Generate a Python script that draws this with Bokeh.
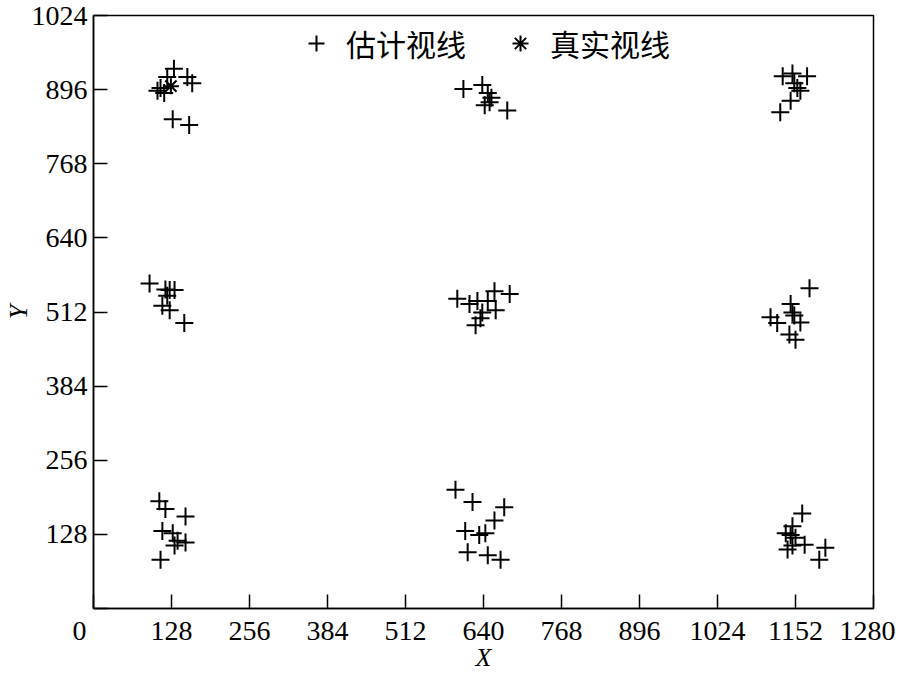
from bokeh.plotting import figure
from bokeh.models import Legend, LegendItem, FixedTicker
from bokeh.embed import file_html
from bokeh.resources import INLINE

# estimated gaze points (估计视线)
est_x = [132, 121, 154, 162, 110, 116, 105, 130, 157,
         607, 638, 647, 653, 642, 650, 679,
         1131, 1147, 1171, 1150, 1155, 1160, 1144, 1127,
         92, 118, 125, 133, 121, 113, 125, 149,
         597, 617, 630, 647, 658, 683, 638, 660, 635, 627,
         1175, 1144, 1147, 1150, 1160, 1111, 1122, 1142, 1152,
         108, 118, 151, 113, 130, 138, 151, 133, 110,
         594, 622, 674, 658, 610, 633, 643, 614, 647, 668,
         1163, 1147, 1136, 1144, 1152, 1167, 1139, 1147, 1201, 1191]
est_y = [932, 918, 918, 907, 899, 890, 894, 845, 835,
         897, 904, 890, 882, 869, 874, 860,
         919, 924, 919, 907, 899, 894, 877, 857,
         561, 551, 550, 550, 540, 523, 515, 493,
         535, 526, 531, 531, 548, 543, 511, 515, 501, 489,
         553, 526, 511, 506, 494, 503, 493, 473, 464,
         185, 172, 159, 134, 130, 117, 114, 109, 84,
         205, 184, 175, 152, 134, 127, 130, 97, 92, 84,
         164, 142, 130, 127, 122, 110, 102, 109, 105, 84]

# true gaze point (真实视线)
true_x = [127]
true_y = [902]

x_ticks = [0, 128, 256, 384, 512, 640, 768, 896, 1024, 1152, 1280]
y_ticks = [0, 128, 256, 384, 512, 640, 768, 896, 1024]

p = figure(width=895, height=674, x_range=(0, 1280), y_range=(0, 1024),
           output_backend="svg", toolbar_location=None,
           min_border_left=90, min_border_right=22, min_border_top=15, min_border_bottom=50)
p.grid.visible = False
p.background_fill_color = "white"
p.border_fill_color = "white"
p.outline_line_color = "black"
p.outline_line_width = 1.5

r_est = p.scatter(est_x, est_y, marker="cross", size=18, line_color="black", line_width=2)
r_true = p.scatter(true_x, true_y, marker="asterisk", size=16, line_color="black", line_width=2)

serif = "Liberation Serif"
for ax, ticks in ((p.xaxis[0], x_ticks), (p.yaxis[0], y_ticks)):
    ax.ticker = FixedTicker(ticks=ticks)
    ax.major_tick_in = 14
    ax.major_tick_out = 0
    ax.minor_tick_line_color = None
    ax.axis_line_color = "black"
    ax.axis_line_width = 1.5
    ax.major_tick_line_width = 1.5
    ax.major_label_text_font = serif
    ax.major_label_text_font_size = "28px"
    ax.major_label_text_color = "black"
    ax.axis_label_text_font = serif
    ax.axis_label_text_font_style = "italic"
    ax.axis_label_text_font_size = "26px"
    ax.axis_label_text_color = "black"

# shared origin label "0" sits left of the x-axis origin
p.xaxis.major_label_overrides = {0: "0\u2007\u2007"}
p.yaxis.major_label_overrides = {0: ""}

p.xaxis.axis_label = "X"
p.yaxis.axis_label = "Y"
p.xaxis.major_label_standoff = 6
p.yaxis.major_label_standoff = 6
p.xaxis.axis_label_standoff = -6
p.yaxis.axis_label_standoff = -4

legend = Legend(items=[LegendItem(label="估计视线", renderers=[r_est]),
                       LegendItem(label="真实视线", renderers=[r_true])],
                location="top_center", orientation="horizontal",
                label_text_font="Noto Sans CJK SC", label_text_font_size="30px",
                label_text_color="black", border_line_color=None,
                background_fill_alpha=0, spacing=34, glyph_width=40, glyph_height=40,
                label_standoff=10, margin=6, padding=0)
p.add_layout(legend)

open("out.html", "w").write(file_html(p, INLINE))
